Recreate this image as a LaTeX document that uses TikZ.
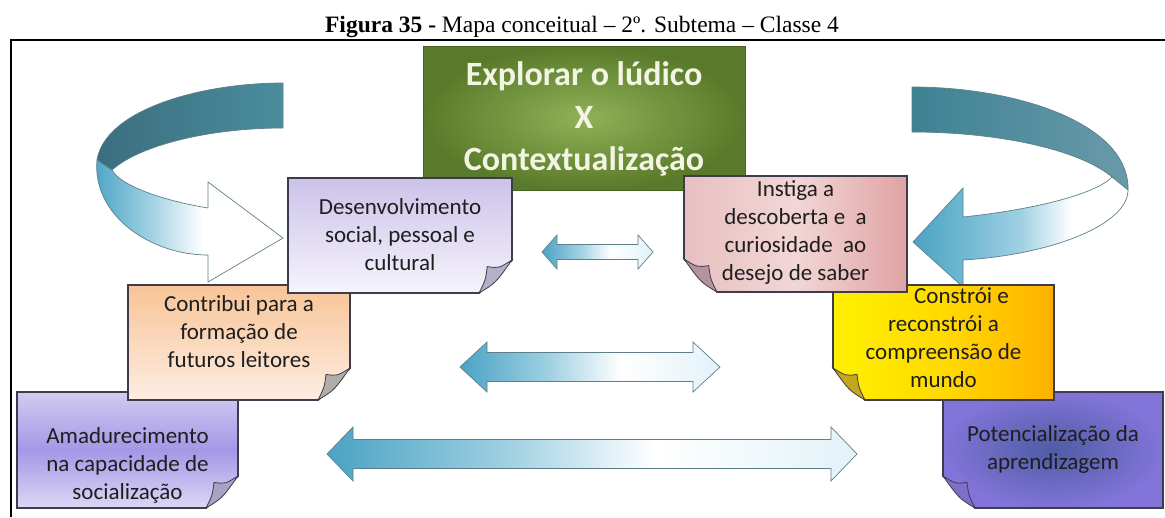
\documentclass[tikz,border=0pt]{standalone}
\usepackage{fontspec}
\setmainfont{Carlito}
\newfontfamily\titlefont{Liberation Serif}
\usetikzlibrary{calc}
\definecolor{boxline}{HTML}{3C3C4C}
\definecolor{textc}{HTML}{1E1E1E}
\definecolor{arrline}{HTML}{5E7F8A}
\definecolor{tealA}{HTML}{4AA3C4}
\definecolor{tealB}{HTML}{9FD0E2}
\definecolor{tealC}{HTML}{6FB8D2}
\definecolor{paleB}{HTML}{E2F2F8}
\definecolor{bandL1}{HTML}{3B6E7E}
\definecolor{bandL2}{HTML}{4A8D9D}
\definecolor{bandR1}{HTML}{3D8293}
\definecolor{bandR2}{HTML}{6A9AAA}
\definecolor{greenIn}{HTML}{8FB256}
\definecolor{greenOut}{HTML}{5A7A2B}
\definecolor{greenText}{HTML}{F2F5E2}
\definecolor{amaTop}{HTML}{D2CBF2}
\definecolor{amaMid}{HTML}{A597E6}
\definecolor{amaBot}{HTML}{DCD7F5}
\definecolor{potIn}{HTML}{4E5CA4}
\definecolor{potOut}{HTML}{8274D8}
\definecolor{conTop}{HTML}{F8C497}
\definecolor{conBot}{HTML}{FDEDE2}
\definecolor{consL}{HTML}{FFF000}
\definecolor{consM}{HTML}{FFDA00}
\definecolor{consR}{HTML}{FFB000}
\definecolor{devTop}{HTML}{CCC2EA}
\definecolor{devBot}{HTML}{F6F4FB}
\definecolor{insL}{HTML}{E7C0C0}
\definecolor{insM}{HTML}{F2D6D6}
\definecolor{insR}{HTML}{E0A3A3}
\definecolor{fAma}{HTML}{A9A2C4}
\definecolor{fPot}{HTML}{7E70C8}
\definecolor{fCon}{HTML}{B3ADA8}
\definecolor{fCons}{HTML}{C4A620}
\definecolor{fDev}{HTML}{B6B0C6}
\definecolor{fIns}{HTML}{B3949C}
\pgfdeclarehorizontalshading{arrL}{100bp}{color(0bp)=(tealA); color(25bp)=(tealA); color(42bp)=(tealB); color(56bp)=(white); color(75bp)=(paleB); color(100bp)=(paleB)}
\pgfdeclarehorizontalshading{arrCL}{100bp}{color(0bp)=(tealA); color(25bp)=(tealA); color(40bp)=(tealB); color(54bp)=(white); color(100bp)=(white)}
\pgfdeclarehorizontalshading{arrCR}{100bp}{color(0bp)=(tealA); color(25bp)=(tealA); color(37bp)=(tealC); color(50bp)=(tealB); color(62bp)=(white); color(100bp)=(white)}
\newcommand\foldBR[4]{%
  \fill[white] ({#1-#3},{#2+1.5}) -- ({#1+1.5},{#2+1.5}) -- ({#1+1.5},{#2-#3}) -- cycle;
  \draw[flap,fill=#4] ({#1-#3},{#2}) .. controls ({#1-0.5*#3},{#2-0.3*#3}) .. ({#1},{#2-#3})
    .. controls ({#1-0.4*#3},{#2-0.75*#3}) .. ({#1-0.75*#3},{#2-0.8*#3})
    .. controls ({#1-0.8*#3},{#2-0.4*#3}) .. ({#1-#3},{#2}) -- cycle;}
\newcommand\foldBL[4]{%
  \fill[white] ({#1+#3},{#2+1.5}) -- ({#1-1.5},{#2+1.5}) -- ({#1-1.5},{#2-#3}) -- cycle;
  \draw[flap,fill=#4] ({#1+#3},{#2}) .. controls ({#1+0.5*#3},{#2-0.3*#3}) .. ({#1},{#2-#3})
    .. controls ({#1+0.4*#3},{#2-0.75*#3}) .. ({#1+0.75*#3},{#2-0.8*#3})
    .. controls ({#1+0.8*#3},{#2-0.4*#3}) .. ({#1+#3},{#2}) -- cycle;}
\newcommand\dblarr[6]{%
  \draw[darr] (#1,#3) -- ({#1+#6},{#3-#4}) -- ({#1+#6},{#3-#5}) -- ({#2-#6},{#3-#5}) -- ({#2-#6},{#3-#4}) -- (#2,#3)
   -- ({#2-#6},{#3+#4}) -- ({#2-#6},{#3+#5}) -- ({#1+#6},{#3+#5}) -- ({#1+#6},{#3+#4}) -- cycle;}
\begin{document}
\begin{tikzpicture}[x=1pt,y=-1pt,
  box/.style={draw=boxline,line width=1.1pt,rectangle,inner sep=0pt},
  txt/.style={font=\fontsize{23}{28}\selectfont,align=center,text=textc,inner sep=0pt},
  flap/.style={draw=boxline,line width=0.8pt},
  darr/.style={draw=arrline,line width=0.7pt,shade,shading=arrL},
  band/.style={draw=arrline,line width=0.7pt}
]
\useasboundingbox (0,0) rectangle (1165,517);
\fill[white] (0,0) rectangle (1165,517);
\node[anchor=base,inner sep=0pt,font={\titlefont\fontsize{23.5}{28}\selectfont}] (title) at (582,32) {\textbf{Figura 35 -} Mapa conceitual – 2º. Subtema – Classe 4};
\draw[line width=2pt] (1165,40) -- (11,40) -- (11,517);

% left curved arrow
\draw[band,left color=bandL1,right color=bandL2] (283,83) .. controls (200,83) and (105,110) .. (97,160) -- (112,170) .. controls (140,145) and (210,128) .. (283,128) -- cycle;
\draw[band,shade,shading=arrCL] (97,160) .. controls (92,215) and (150,255) .. (208,255) -- (208,282) -- (283,238) -- (208,182) -- (208,208) .. controls (160,200) and (120,185) .. (112,170) -- cycle;
% right curved arrow
\draw[band,left color=bandR1,right color=bandR2] (912,87) .. controls (1020,87) and (1130,125) .. (1128,190) -- (1112,177) .. controls (1080,150) and (1000,132) .. (912,132) -- cycle;
\draw[band,shade,shading=arrCR] (1128,190) .. controls (1128,225) and (1050,255) .. (963,260) -- (963,287) -- (913,242) -- (963,188) -- (963,217) .. controls (1030,210) and (1095,195) .. (1112,177) -- cycle;

% central theme
\node[draw=greenOut!80!black,line width=0.8pt,rectangle,inner sep=0pt,minimum width=322pt,minimum height=144pt,inner color=greenIn,outer color=greenOut] (theme) at (584,118) {};
\node[inner sep=0pt,align=center,text=greenText,font={\fontsize{34}{42.5}\selectfont\bfseries}] (theme-t) at (584,119) {Explorar o lúdico\\X\\Contextualização};

% double arrows
\dblarr{542}{653}{252}{17}{7.5}{15}
\dblarr{460}{720}{367}{25}{14.5}{27}
\dblarr{327}{857}{454}{27}{14.5}{26}

% boxes
\node[box,minimum width=221pt,minimum height=116pt,top color=amaTop,bottom color=amaBot,middle color=amaMid] (ama) at (127.5,450) {};
\foldBR{238}{508}{32}{fAma}
\node[txt] (ama-t) at (127.5,465) {Amadurecimento\\na capacidade de\\socialização};

\node[box,minimum width=220pt,minimum height=116pt,inner color=potIn,outer color=potOut] (pot) at (1053,450) {};
\foldBL{943}{508}{32}{fPot}
\node[txt] (pot-t) at (1053,449) {Potencialização da\\aprendizagem};

\node[box,minimum width=222pt,minimum height=115pt,top color=conTop,bottom color=conBot] (con) at (239,342.5) {};
\foldBR{350}{400}{32}{fCon}
\node[txt] (con-t) at (239,332) {Contribui para a\\formação de\\futuros leitores};

\node[box,minimum width=221pt,minimum height=115pt,left color=consL,right color=consR,middle color=consM] (cons) at (943.5,342.5) {};
\foldBL{833}{400}{32}{fCons}
\node[txt] (cons-t) at (943.5,338) {\hspace*{36pt}Constrói e\\reconstrói a\\compreensão de\\mundo};

\node[box,minimum width=224pt,minimum height=115pt,top color=devTop,bottom color=devBot] (dev) at (400,235.5) {};
\foldBR{512}{293}{33}{fDev}
\node[txt] (dev-t) at (400,235) {Desenvolvimento\\social, pessoal e\\cultural};

\node[box,minimum width=223pt,minimum height=116pt,left color=insL,right color=insR,middle color=insM] (ins) at (795.5,234) {};
\foldBL{684}{292}{33}{fIns}
\node[txt] (ins-t) at (795.5,233) {Instiga a\\descoberta e\ \ a\\curiosidade\ \ ao\\desejo de saber};
\end{tikzpicture}
\end{document}
